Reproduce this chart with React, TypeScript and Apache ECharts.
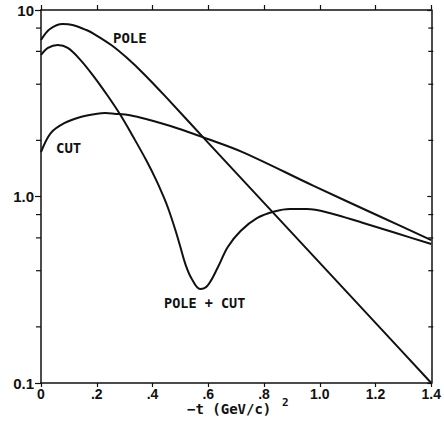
import React, { useEffect, useRef } from "react";
import * as echarts from "echarts";

const xTickLabels = ["0", ".2", ".4", ".6", ".8", "1.0", "1.2", "1.4"];
const minorTickValues = [0.2, 0.4, 0.6, 0.8, 2, 4, 6, 8];

const poleX = [0, 0.032, 0.078, 0.113, 0.163, 0.191, 0.252, 0.308, 0.369, 0.447, 0.6, 0.8, 1.0, 1.2, 1.4];
const poleY = [6.9, 7.91, 8.41, 8.31, 7.81, 7.43, 6.49, 5.54, 4.54, 3.43, 1.94, 0.925, 0.441, 0.21, 0.1];

const cutX = [0, 0.035, 0.085, 0.142, 0.202, 0.23, 0.262, 0.319, 0.39, 0.486, 0.588, 0.723, 0.978, 1.212, 1.4];
const cutY = [1.73, 2.19, 2.48, 2.67, 2.78, 2.8, 2.78, 2.73, 2.57, 2.33, 2.06, 1.73, 1.14, 0.786, 0.584];

const sumX = [0, 0.025, 0.06, 0.096, 0.142, 0.191, 0.238, 0.284, 0.333, 0.379, 0.415, 0.44, 0.457, 0.482, 0.5, 0.518, 0.539, 0.571, 0.599, 0.635, 0.67, 0.716, 0.776, 0.837, 0.893, 0.954, 1.035, 1.156, 1.273, 1.4];
const sumY = [5.74, 6.26, 6.49, 6.26, 5.39, 4.37, 3.49, 2.75, 2.06, 1.55, 1.21, 0.994, 0.857, 0.661, 0.536, 0.434, 0.366, 0.319, 0.335, 0.419, 0.536, 0.653, 0.767, 0.831, 0.857, 0.857, 0.816, 0.721, 0.637, 0.556];

const zip = (xs: number[], ys: number[]) => xs.map((x, i) => [x, ys[i]]);

const INK = "#111";
const labelFont = "'DejaVu Sans Mono', monospace";
const tickFont = "'Liberation Sans', Arial, sans-serif";

export default function App() {
  const ref = useRef<HTMLDivElement>(null);
  useEffect(() => {
    if (!ref.current) return;
    const chart = echarts.init(ref.current, undefined, { renderer: "svg" });
    const lineSeries = (name: string, data: number[][]) => ({
      name,
      type: "line",
      data,
      smooth: 0.35,
      showSymbol: false,
      symbol: "none",
      lineStyle: { color: INK, width: 2 },
      clip: true,
    });
    chart.setOption({
      animation: false,
      backgroundColor: "#fff",
      grid: { left: 41, right: 8, top: 10, bottom: 53 },
      xAxis: [
        {
          type: "value",
          min: 0,
          max: 1.4,
          interval: 0.2,
          position: "bottom",
          axisLine: { lineStyle: { color: INK, width: 1.5 } },
          axisTick: { show: true, length: 4, lineStyle: { color: INK, width: 1.2 } },
          splitLine: { show: false },
          axisLabel: {
            color: INK,
            fontFamily: tickFont,
            fontWeight: "bold",
            fontSize: 14,
            margin: 4,
            formatter: (v: number) => xTickLabels[Math.round(v / 0.2)] ?? "",
          },
        },
        {
          type: "value",
          min: 0,
          max: 1.4,
          interval: 0.2,
          position: "top",
          axisLine: { show: true, onZero: false, lineStyle: { color: INK, width: 1.5 } },
          axisTick: { show: true, length: 5, lineStyle: { color: INK, width: 1.2 } },
          splitLine: { show: false },
          axisLabel: { show: false },
        },
      ],
      yAxis: [
        {
          type: "log",
          logBase: 10,
          min: 0.1,
          max: 10,
          position: "left",
          axisLine: { show: true, lineStyle: { color: INK, width: 1.5 } },
          axisTick: { show: true, length: 6, lineStyle: { color: INK, width: 1.2 } },
          splitLine: { show: false },
          minorTick: { show: false },
          axisLabel: {
            color: INK,
            fontFamily: tickFont,
            fontWeight: "bold",
            fontSize: 15,
            margin: 7,
            formatter: (v: number) =>
              Math.abs(v - 10) < 1e-6 ? "10" : Math.abs(v - 1) < 1e-6 ? "1.0" : Math.abs(v - 0.1) < 1e-6 ? "0.1" : "",
          },
        },
        {
          type: "log",
          logBase: 10,
          min: 0.1,
          max: 10,
          position: "right",
          axisLine: { show: true, onZero: false, lineStyle: { color: INK, width: 1.5 } },
          axisTick: { show: true, inside: true, length: 4, lineStyle: { color: INK, width: 1.2 } },
          splitLine: { show: false },
          axisLabel: { show: false },
        },
      ],
      series: [
        lineSeries("POLE", zip(poleX, poleY)),
        lineSeries("CUT", zip(cutX, cutY)),
        lineSeries("POLE + CUT", zip(sumX, sumY)),
        {
          type: "custom",
          name: "minor ticks",
          clip: false,
          silent: true,
          data: minorTickValues.map((v) => [0, v]),
          encode: { x: 0, y: 1 },
          renderItem: (params: any, api: any) => {
            const v = api.value(1);
            const l = api.coord([0, v]);
            const r = api.coord([1.4, v]);
            const style = { stroke: INK, lineWidth: 1.2 };
            return {
              type: "group",
              children: [
                { type: "line", shape: { x1: l[0] - 5, y1: l[1], x2: l[0], y2: l[1] }, style },
                { type: "line", shape: { x1: r[0] - 3, y1: r[1], x2: r[0] + 2, y2: r[1] }, style },
              ],
            };
          },
        },
      ],
      graphic: [
        {
          type: "text",
          left: 113,
          top: 31,
          style: { text: "POLE", fill: INK, font: `bold 14px ${labelFont}` },
        },
        {
          type: "text",
          left: 56,
          top: 141,
          style: { text: "CUT", fill: INK, font: `bold 14px ${labelFont}` },
        },
        {
          type: "text",
          left: 164,
          top: 296,
          style: { text: "POLE + CUT", fill: INK, font: `bold 13.5px ${labelFont}` },
        },
        {
          type: "text",
          left: 187,
          top: 402,
          style: { text: "−t (GeV/c)", fill: INK, font: `bold 14px ${labelFont}` },
        },
        {
          type: "text",
          left: 282,
          top: 397,
          style: { text: "2", fill: INK, font: `bold 11px ${labelFont}` },
        },
      ],
    });
    return () => chart.dispose();
  }, []);
  return (
    <div
      ref={ref}
      style={{ position: "fixed", left: 0, top: 0, width: 444, height: 436, background: "#fff" }}
    />
  );
}
